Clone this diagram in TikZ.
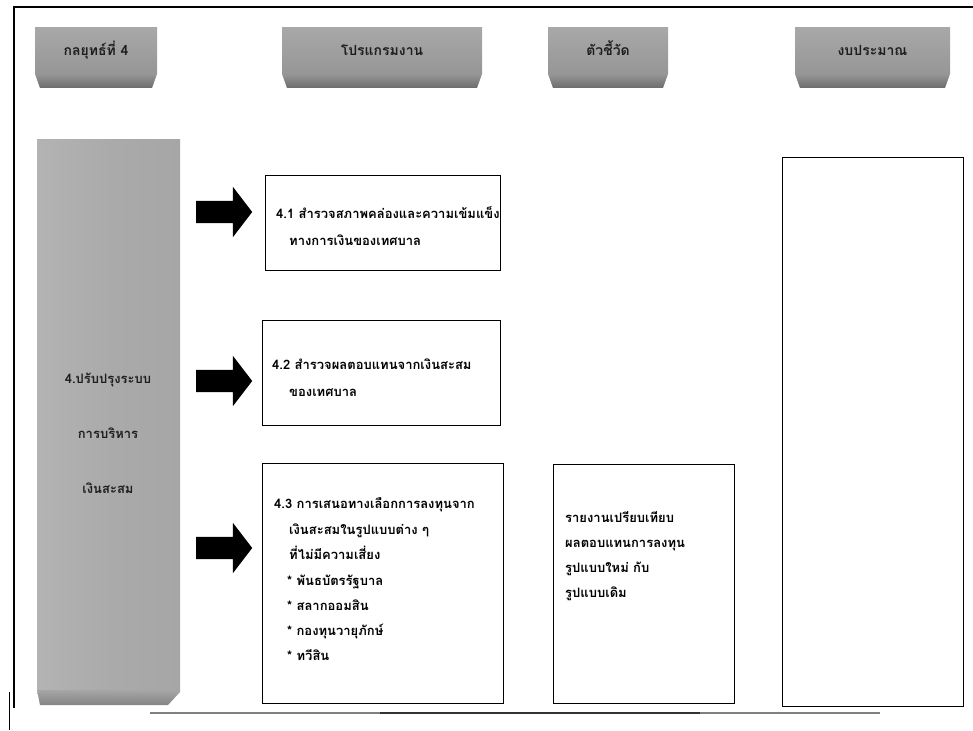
\documentclass[tikz,border=0pt]{standalone}
\usepackage{fontspec}
\newfontfamily\thai[Script=Thai]{Loma}
\usetikzlibrary{shapes.arrows}
\definecolor{tabtop}{RGB}{168,168,168}
\definecolor{tabmid}{RGB}{150,150,150}
\definecolor{tabbot}{RGB}{108,108,108}
\definecolor{colgray}{RGB}{166,166,166}
\definecolor{inkgray}{RGB}{30,30,30}
\begin{document}
\begin{tikzpicture}[x=1pt,y=-1pt,
  tabtext/.style={font=\thai\bfseries\fontsize{14}{16}\selectfont, text=inkgray, anchor=base},
  coltext/.style={font=\thai\bfseries\fontsize{13}{15}\selectfont, text=inkgray, anchor=base},
  boxframe/.style={draw=black, line width=1.1pt, fill=white, anchor=north west, inner sep=0pt},
  boxtext/.style={font=\thai\bfseries\fontsize{13}{15}\selectfont, anchor=base west, inner sep=0pt},
  blockarrow/.style={single arrow, fill=black, draw=none, inner sep=11pt,
    minimum height=56pt, single arrow head extend=14pt, single arrow tip angle=105,
    anchor=west},
]
\useasboundingbox (0,0) rectangle (973,730);
\fill[white] (0,0) rectangle (973,730);

% outer frame
\draw[line width=1.6pt] (14,708) -- (14,7) -- (973,7);
\draw[line width=1pt] (9,692) -- (9,730);
\draw[gray, line width=1.2pt] (150,713) -- (880,713);
\draw[black!80, line width=1.2pt] (380,713) -- (700,713);

% header tabs
\newcommand\headtab[4]{%
  \shade[top color=tabtop, bottom color=tabmid] (#2,28) rectangle (#3,74);
  \shade[top color=tabmid, bottom color=tabbot] (#2,74) -- (#3,74) -- (#3-5,88) -- (#2+5,88) -- cycle;
  \node[tabtext] (#1) at ({(#2+#3)/2},56) {#4};
}
\headtab{hstrategy}{35}{157}{กลยุทธ์ที่ 4}
\headtab{hprogram}{282}{482}{โปรแกรมงาน}
\headtab{hindicator}{548}{668}{ตัวชี้วัด}
\headtab{hbudget}{795}{950}{งบประมาณ}

% strategy column
\shade[left color=colgray!85!white, right color=colgray, middle color=colgray!95!white]
  (37,140) rectangle (180,690);
\shade[top color=colgray, bottom color=colgray!80!black]
  (37,690) -- (180,690) -- (180,692) -- (168,705) -- (40,705) -- cycle;
\node[coltext] (s1) at (108,383) {4.ปรับปรุงระบบ};
\node[coltext] (s2) at (108,438) {การบริหาร};
\node[coltext] (s3) at (108,493) {เงินสะสม};

% project boxes
\node[boxframe, minimum width=235pt, minimum height=95pt] (b1) at (265,175) {};
\node[boxframe, minimum width=238pt, minimum height=105pt] (b2) at (262,320) {};
\node[boxframe, minimum width=241pt, minimum height=240pt] (b3) at (262,463) {};
\node[boxframe, minimum width=181pt, minimum height=239pt] (b4) at (553,464) {};
\node[boxframe, minimum width=181pt, minimum height=549pt] (b5) at (782,157) {};

% arrows into the project boxes
\node[blockarrow] (a1) at (196,212) {};
\node[blockarrow] (a2) at (196,381) {};
\node[blockarrow] (a3) at (196,548) {};

% box texts (baselines)
\node[boxtext] (t11) at (276,218) {4.1 สำรวจสภาพคล่องและความเข้มแข็ง};
\node[boxtext] (t12) at (289,245) {ทางการเงินของเทศบาล};

\node[boxtext] (t21) at (272,369) {4.2 สำรวจผลตอบแทนจากเงินสะสม};
\node[boxtext] (t22) at (289,396) {ของเทศบาล};

\node[boxtext] (t31) at (274,508) {4.3 การเสนอทางเลือกการลงทุนจาก};
\node[boxtext] (t32) at (289,534) {เงินสะสมในรูปแบบต่าง ๆ};
\node[boxtext] (t33) at (289,559) {ที่ไม่มีความเสี่ยง};
\node[boxtext] (t34) at (287,585) {* พันธบัตรรัฐบาล};
\node[boxtext] (t35) at (287,610) {* สลากออมสิน};
\node[boxtext] (t36) at (287,635) {* กองทุนวายุภักษ์};
\node[boxtext] (t37) at (287,660) {* ทวีสิน};

\node[boxtext] (t41) at (565,522) {รายงานเปรียบเทียบ};
\node[boxtext] (t42) at (565,547) {ผลตอบแทนการลงทุน};
\node[boxtext] (t43) at (565,572) {รูปแบบใหม่ กับ};
\node[boxtext] (t44) at (565,597) {รูปแบบเดิม};
\end{tikzpicture}
\end{document}
